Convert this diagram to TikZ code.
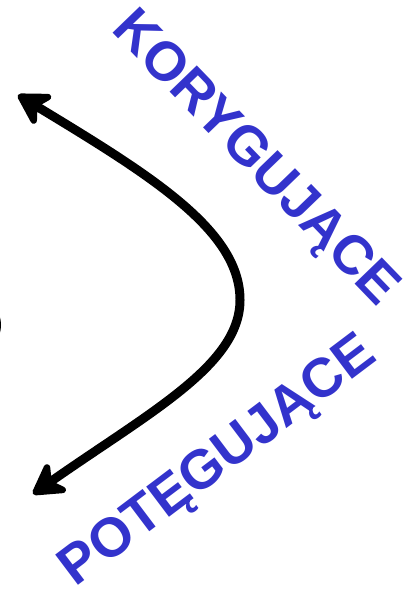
\documentclass[tikz,border=0pt]{standalone}
\usepackage{fontspec}
\setmainfont{Liberation Sans}
\usepackage{xcolor}
\usepackage{tikz}
\usetikzlibrary{arrows.meta,positioning}
\definecolor{labelblue}{HTML}{3333CC}

\begin{document}
\begin{tikzpicture}[
  x=0.5pt, y=-0.5pt,
  curvearrow/.style={line width=4.5pt, line cap=round,
    {Stealth[length=19pt,width=22pt,inset=6pt,round]}-{Stealth[length=19pt,width=22pt,inset=6pt,round]}},
  wordlabel/.style={text=labelblue, font=\bfseries\fontsize{27.5}{30}\selectfont, inner sep=0pt}
]
\useasboundingbox (0,0) rectangle (413,592);
\clip (0,0) rectangle (413,592);

% partial ring cut by the left border
\draw[line width=2pt] (-18,325) ellipse [x radius=17, y radius=22];

\coordinate (top) at (18,95);
\coordinate (turn) at (240,300);
\coordinate (bottom) at (33,494);
\draw[curvearrow] (top) .. controls (150,175) and (240,230) .. (turn)
  .. controls (240,365) and (150,412) .. (bottom);

\node[wordlabel, rotate=-46] (kor) at (254,160) {KORYGUJĄCE};
\node[wordlabel, rotate=37] (pot) at (219,463) {POTĘGUJĄCE};
\end{tikzpicture}
\end{document}
